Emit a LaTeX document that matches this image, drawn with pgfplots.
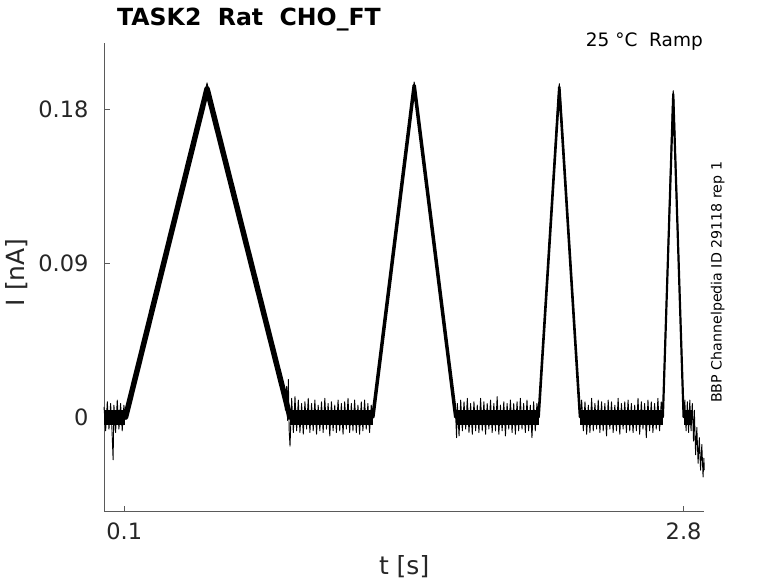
\documentclass[border=0pt]{standalone}
\usepackage{fontspec}
\setmainfont{DejaVu Sans}
\usepackage{pgfplots}
\pgfplotsset{compat=1.18}
\definecolor{axgray}{RGB}{38,38,38}
\definecolor{spine}{RGB}{90,90,90}
\begin{document}
\begin{tikzpicture}
\path[use as bounding box] (0,0) rectangle (778bp,583bp);
\begin{axis}[
  at={(104bp,71.3bp)}, anchor=south west, scale only axis,
  width=600.3bp, height=468.7bp,
  xmin=0.002, xmax=2.9, ymin=-0.0553, ymax=0.2188,
  axis x line*=bottom, axis y line*=left,
  axis line style={draw=spine, line width=0.6bp, -},
  tick align=inside, major tick length=6bp,
  tick style={draw=spine, line width=0.6bp},
  xtick={0.1,2.8}, xticklabels={0.1,2.8},
  ytick={0,0.09,0.18}, yticklabels={0,0.09,0.18},
  ticklabel style={font=\fontsize{22.5bp}{27bp}\selectfont, text=axgray},
  xticklabel style={yshift=-7.5bp},
  yticklabel style={xshift=-12bp},
  xlabel={t [s]}, ylabel={I [nA]},
  label style={font=\fontsize{25bp}{30bp}\selectfont, text=axgray},
  xlabel style={at={(axis description cs:0.5,-0.135)}, anchor=base},
  ylabel style={at={(axis description cs:-0.145,0.511)}, anchor=center},
  clip=false,
]
% solid core of the noisy baseline
\addplot[black, line width=15bp, line cap=butt] coordinates {(0.002,0)(0.104,0)};
\addplot[black, line width=15bp, line cap=butt] coordinates {(0.900,0)(1.300,0)};
\addplot[black, line width=15bp, line cap=butt] coordinates {(1.700,0)(2.100,0)};
\addplot[black, line width=15bp, line cap=butt] coordinates {(2.300,0)(2.700,0)};
\addplot[black, line width=15bp, line cap=butt] coordinates {(2.800,0)(2.842,0)};
% thin noisy trace
\addplot[black, line width=0.9bp, line join=round] coordinates {
(0.002,0.006)(0.010,-0.008)(0.018,0.009)(0.026,-0.007)(0.034,0.008)(0.040,-0.006)(0.046,-0.025)(0.050,0.007)(0.058,-0.009)(0.066,0.010)(0.074,-0.007)(0.082,0.008)(0.090,-0.008)(0.098,0.007)(0.104,0.000)
(0.490,0.190)(0.4995,0.1955)(0.508,0.190)
(0.872,0.015)(0.878,0.004)(0.884,0.018)(0.888,-0.002)(0.892,0.022)(0.896,-0.008)(0.900,-0.017)
(0.908,0.011)(0.916,-0.009)(0.924,0.012)(0.932,-0.008)(0.940,0.010)(0.948,-0.009)(0.956,0.008)(0.964,-0.010)(0.972,0.009)(0.980,-0.007)
(0.988,0.011)(0.996,-0.009)(1.004,0.008)(1.012,-0.008)(1.020,0.010)(1.028,-0.010)(1.036,0.007)(1.044,-0.008)(1.052,0.009)(1.060,-0.009)
(1.068,0.011)(1.076,-0.007)(1.084,0.008)(1.092,-0.011)(1.100,0.009)(1.108,-0.008)(1.116,0.007)(1.124,-0.009)(1.132,0.010)(1.140,-0.008)
(1.148,0.008)(1.156,-0.010)(1.164,0.009)(1.172,-0.007)(1.180,0.011)(1.188,-0.009)(1.196,0.008)(1.204,-0.008)(1.212,0.010)(1.220,-0.009)
(1.228,0.007)(1.236,-0.010)(1.244,0.009)(1.252,-0.008)(1.260,0.010)(1.268,-0.007)(1.276,0.008)(1.284,-0.009)(1.292,0.007)(1.300,0.000)
(1.490,0.187)(1.4995,0.196)(1.509,0.187)(1.700,0.000)
(1.704,-0.012)(1.708,0.008)(1.716,-0.011)(1.724,0.010)(1.732,-0.008)(1.740,0.009)(1.748,-0.007)(1.756,0.011)(1.764,-0.009)(1.772,0.008)(1.780,-0.010)
(1.788,0.009)(1.796,-0.008)(1.804,0.007)(1.812,-0.009)(1.820,0.011)(1.828,-0.008)(1.836,0.009)(1.844,-0.010)(1.852,0.008)(1.860,-0.007)
(1.868,0.010)(1.876,-0.009)(1.884,0.008)(1.892,-0.008)(1.900,0.012)(1.908,-0.010)(1.916,0.007)(1.924,-0.008)(1.932,0.009)(1.940,-0.011)
(1.948,0.008)(1.956,-0.007)(1.964,0.010)(1.972,-0.009)(1.980,0.008)(1.988,-0.010)(1.996,0.009)(2.004,-0.008)(2.012,0.011)(2.020,-0.007)
(2.028,0.008)(2.036,-0.009)(2.044,0.010)(2.052,-0.008)(2.060,0.007)(2.068,-0.012)(2.076,0.009)(2.084,-0.008)(2.092,0.008)(2.100,0.000)
(2.195,0.188)(2.200,0.195)(2.205,0.188)(2.300,0.000)
(2.308,0.010)(2.316,-0.008)(2.324,0.009)(2.332,-0.010)(2.340,0.007)(2.348,-0.009)(2.356,0.011)(2.364,-0.008)(2.372,0.008)(2.380,-0.007)
(2.388,0.010)(2.396,-0.009)(2.404,0.009)(2.412,-0.008)(2.420,0.008)(2.428,-0.011)(2.436,0.010)(2.444,-0.007)(2.452,0.009)(2.460,-0.009)
(2.468,0.007)(2.476,-0.008)(2.484,0.011)(2.492,-0.010)(2.500,0.008)(2.508,-0.007)(2.516,0.009)(2.524,-0.009)(2.532,0.010)(2.540,-0.008)
(2.548,0.008)(2.556,-0.009)(2.564,0.007)(2.572,-0.008)(2.580,0.011)(2.588,-0.010)(2.596,0.009)(2.604,-0.007)(2.612,0.008)(2.620,-0.012)
(2.628,0.010)(2.636,-0.008)(2.644,0.009)(2.652,-0.009)(2.660,0.008)(2.668,-0.007)(2.676,0.011)(2.684,-0.008)(2.692,0.009)(2.700,0.000)
(2.747,0.185)(2.750,0.191)(2.753,0.185)(2.800,0.000)
(2.806,0.010)(2.812,-0.008)(2.818,0.009)(2.824,-0.009)(2.830,0.010)(2.836,-0.008)(2.842,0.008)(2.848,-0.014)(2.852,0.004)(2.858,-0.022)
(2.864,-0.006)(2.870,-0.027)(2.876,-0.012)(2.882,-0.031)(2.888,-0.016)(2.894,-0.035)(2.898,-0.024)(2.900,-0.031)
};
% thick ramps (noise makes them look thick)
\addplot[black, line width=5.5bp, line join=round, line cap=round] coordinates {(0.106,0.0)(0.4995,0.1920)(0.900,0.0)};
\addplot[black, line width=3.5bp, line join=round, line cap=round] coordinates {(1.300,0.0)(1.4995,0.1940)(1.700,0.0)};
\addplot[black, line width=2.6bp, line join=round, line cap=round] coordinates {(2.100,0.0)(2.200,0.193)(2.300,0.0)};
\addplot[black, line width=2.2bp, line join=round, line cap=round] coordinates {(2.700,0.0)(2.750,0.189)(2.800,0.0)};
\end{axis}
\node[anchor=base west, inner sep=0, font=\fontsize{23.6bp}{28bp}\selectfont\bfseries] at (117bp,557bp) {TASK2\ \ Rat\ \ CHO\_FT};
\node[anchor=base east, inner sep=0, font=\fontsize{18.5bp}{22bp}\selectfont] at (703bp,536bp) {25 °C\ \ Ramp};
\node[rotate=90, anchor=base west, inner sep=0, font=\fontsize{14.2bp}{17bp}\selectfont] at (721.7bp,180bp) {BBP Channelpedia ID 29118 rep 1};
\end{tikzpicture}
\end{document}
